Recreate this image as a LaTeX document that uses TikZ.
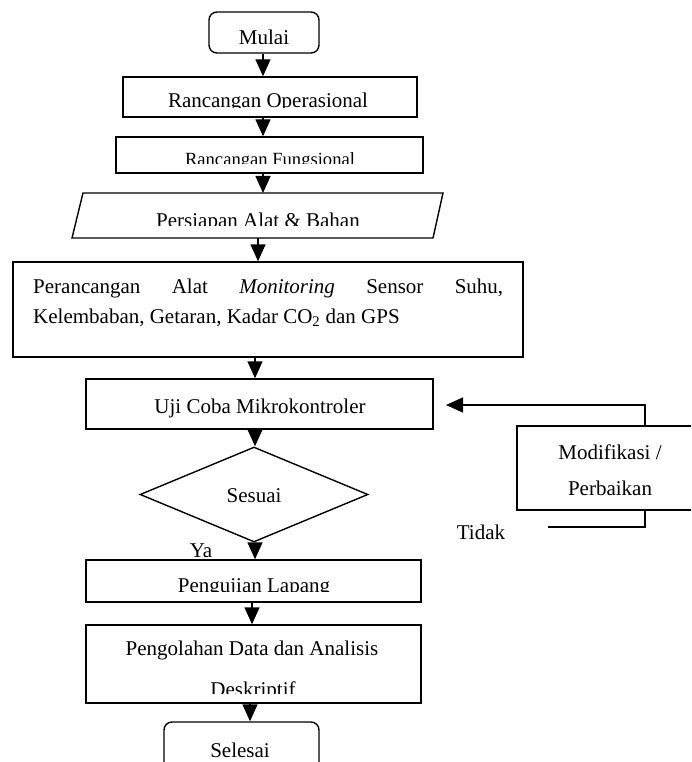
\documentclass[tikz,border=0pt]{standalone}
\usepackage{fontspec}
\setmainfont{Liberation Serif}
\usetikzlibrary{arrows.meta,shapes.geometric}
\tikzset{
  box/.style={draw, line width=1.4pt, inner sep=0pt, rectangle},
  term/.style={box, rounded corners=8pt},
  dec/.style={draw, line width=1.4pt, inner sep=0pt, diamond},
  txt/.style={inner sep=0pt, anchor=base, font=\fontsize{21}{25}\selectfont},
  smalltxt/.style={inner sep=0pt, anchor=base, font=\fontsize{18.6}{22}\selectfont},
  arr/.style={line width=1.4pt, -{Triangle[width=15pt,length=17pt]}},
  ln/.style={line width=1.4pt},
}
\begin{document}
\begin{tikzpicture}[x=1pt,y=-1pt]
\clip (0,0) rectangle (691,762);
\fill[white] (0,0) rectangle (691,762);

% boxes
\node[term, minimum width=110pt, minimum height=41pt] (mulai) at (264,32.5) {};
\node[box, minimum width=294pt, minimum height=40pt] (ro) at (270,97) {};
\node[box, minimum width=307pt, minimum height=36pt] (rf) at (269.5,155) {};
\coordinate (pA) at (83,193);
\coordinate (pB) at (443,193);
\coordinate (pC) at (433,238);
\coordinate (pD) at (72,238);
\draw[ln, line join=miter] (pA) -- (pB) -- (pC) -- (pD) -- cycle;
\coordinate (pers) at (258,215.5);
\coordinate (perstop) at (258,193);
\coordinate (persbot) at (258,238);
\node[box, minimum width=510pt, minimum height=95pt] (big) at (268,309.5) {};
\node[box, minimum width=347pt, minimum height=50pt] (uji) at (259.5,404) {};
\node[dec, minimum width=228pt, minimum height=95pt] (sesuai) at (254,494.5) {};
\node[box, minimum width=188pt, minimum height=84pt] (mod) at (611,468) {};
\node[box, minimum width=335pt, minimum height=42pt] (peng) at (253.5,581) {};
\node[box, minimum width=335pt, minimum height=78pt] (olah) at (253.5,664) {};
\node[term, minimum width=155pt, minimum height=68pt] (selesai) at (241.5,756) {};

% texts
\begin{scope}
  \clip (209,12) rectangle (319,43.5);
  \node[txt] (tmulai) at (264,45) {Mulai};
\end{scope}
\begin{scope}
  \clip (123,77) rectangle (417,107.5);
  \node[txt] (tro) at (268,108) {Rancangan Operasional};
\end{scope}
\begin{scope}
  \clip (116,137) rectangle (423,163.5);
  \node[smalltxt] (trf) at (270,165) {Rancangan Fungsional};
\end{scope}
\begin{scope}
  \clip (72,193) rectangle (443,225);
  \node[txt] (tpers) at (258,227) {Persiapan Alat \& Bahan};
\end{scope}
\node[txt, anchor=base west] (tbig1) at (33,293) {\makebox[470pt][s]{Perancangan Alat \textit{Monitoring} Sensor Suhu,}};
\node[txt, anchor=base west] (tbig2) at (33,323) {Kelembaban, Getaran, Kadar CO\textsubscript{2} dan GPS};
\node[txt] (tuji) at (260,413) {Uji Coba Mikrokontroler};
\node[txt] (tsesuai) at (254,502) {Sesuai};
\begin{scope}
  \clip (150,530) rectangle (250,557);
  \node[txt] (tya) at (201,557) {Ya};
\end{scope}
\node[txt] (ttidak) at (481,539) {Tidak};
\node[txt] (tmod1) at (610,459) {Modifikasi /};
\node[txt] (tmod2) at (610,495) {Perbaikan};
\begin{scope}
  \clip (86,560) rectangle (421,591.5);
  \node[txt] (tpeng) at (254,592) {Pengujian Lapang};
\end{scope}
\node[txt] (tolah1) at (252,655) {Pengolahan Data dan Analisis};
\begin{scope}
  \clip (86,625) rectangle (421,693);
  \node[txt] (tolah2) at (253,696) {Deskriptif};
\end{scope}
\node[txt] (tselesai) at (240,757) {Selesai};

% connectors
\coordinate (x1) at (263,0);
\coordinate (x2) at (258,0);
\coordinate (x3) at (255,0);
\coordinate (x4) at (252,0);
\coordinate (x5) at (250,0);
\draw[arr] (mulai.south -| x1) -- (ro.north -| x1);
\draw[arr] (ro.south -| x1) -- (rf.north -| x1);
\draw[arr] (rf.south -| x1) -- (perstop -| x1);
\draw[arr] (persbot) -- (big.north -| x2);
\draw[arr] (big.south -| x3) -- (uji.north -| x3);
\draw[arr] (uji.south -| x3) -- (sesuai.north -| x3);
\draw[arr] (sesuai.south -| x3) -- (peng.north -| x3);
\draw[arr] (peng.south -| x4) -- (olah.north -| x4);
\draw[arr] (olah.south -| x5) -- (selesai.north -| x5);

\coordinate (mtop) at (645,426);
\coordinate (mbot) at (645,510);
\coordinate (fbtip) at (446,405);
\coordinate (tend) at (548,527);
\draw[arr] (mtop) |- (fbtip);
\draw[ln] (mbot) |- (tend);
\end{tikzpicture}
\end{document}
